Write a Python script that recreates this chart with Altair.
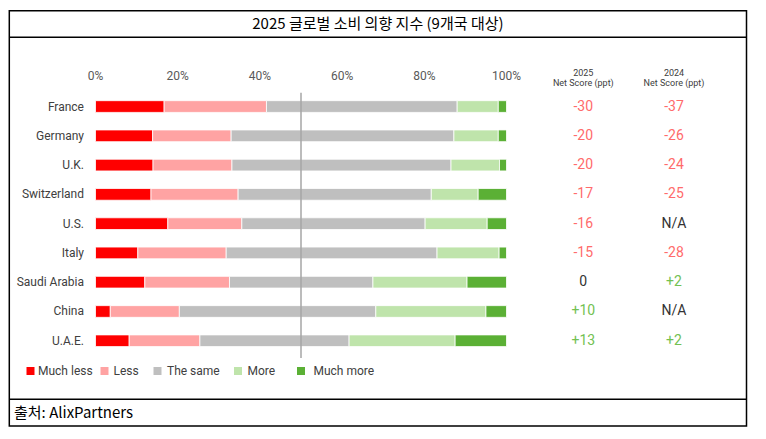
import altair as alt
import pandas as pd

# ---- data ----
countries = ["France", "Germany", "U.K.", "Switzerland", "U.S.", "Italy",
             "Saudi Arabia", "China", "U.A.E."]
categories = ["Much less", "Less", "The same", "More", "Much more"]
much_less = [16.7, 13.9, 14.0, 13.5, 17.6, 10.3, 12.0, 3.6, 8.2]
less = [24.9, 19.1, 19.2, 21.2, 18.0, 21.5, 20.6, 16.8, 17.2]
same = [46.4, 54.2, 53.3, 47.0, 44.6, 51.3, 34.9, 47.8, 36.3]
more = [10.0, 10.8, 11.8, 11.4, 15.1, 15.1, 22.9, 26.8, 25.8]
much_more = [2.0, 2.0, 1.7, 6.9, 4.7, 1.8, 9.6, 5.0, 12.5]
net_2025 = ["-30", "-20", "-20", "-17", "-16", "-15", "0", "+10", "+13"]
net_2024 = ["-37", "-26", "-24", "-25", "N/A", "-28", "+2", "N/A", "+2"]
ticks = [0, 0.2, 0.4, 0.6, 0.8, 1.0]
title_text = "2025 글로벌 소비 의향 지수 (9개국 대상)"
source_text = "출처: AlixPartners"

# ---- styles / layout ----
colors = ["#ff0000", "#ffa3a3", "#bfbfbf", "#bfe4ab", "#5bb035"]
tone_colors = {"neg": "#ff6b6b", "pos": "#72c152", "neu": "#333333"}
legend_sq_x = [30.5, 104.5, 157.5, 238, 301]
legend_tx_x = [38, 113.5, 167, 247.5, 313.5]
OFF = 8  # page margin

W, H = 750, 423
xscale = alt.Scale(domain=[0, 1], range=[95.5 - OFF, 506.5 - OFF], nice=False, zero=False)
yscale = alt.Scale(domain=countries, range=[83.9, 347.4], paddingInner=0.6, paddingOuter=0.3)

series = [much_less, less, same, more, much_more]
rows = []
for k, (cat, vals) in enumerate(zip(categories, series)):
    for c, v in zip(countries, vals):
        rows.append({"country": c, "category": cat, "k": k, "value": v})
bars_df = pd.DataFrame(rows)

bars = alt.Chart(bars_df).mark_bar(stroke="white", strokeWidth=0.8).encode(
    x=alt.X("value:Q", stack="normalize", scale=xscale, axis=None),
    y=alt.Y("country:N", scale=yscale, axis=None, sort=countries),
    color=alt.Color("category:N", scale=alt.Scale(domain=categories, range=colors), legend=None),
    order=alt.Order("k:Q"),
)

tick_df = pd.DataFrame({"t": ticks})
tick_labels = alt.Chart(tick_df).mark_text(
    font="Roboto", fontSize=12, color="#595959", align="center", baseline="middle"
).encode(
    x=alt.X("t:Q", scale=xscale, axis=None),
    y=alt.value(76 - OFF),
    text=alt.Text("t:Q", format=".0%"),
)

country_df = pd.DataFrame({"country": countries})
country_labels = alt.Chart(country_df).mark_text(
    font="Roboto", fontSize=12, color="#404040", align="right", baseline="middle"
).encode(
    x=alt.value(84 - OFF),
    y=alt.Y("country:N", scale=yscale, axis=None, sort=countries),
    text="country:N",
)

mid_df = pd.DataFrame({"v": [0.5]})
mid_rule = alt.Chart(mid_df).mark_rule(color="#a6a6a6", strokeWidth=1.5).encode(
    x=alt.X("v:Q", scale=xscale, axis=None),
    y=alt.value(92.7 - OFF),
    y2=alt.value(358 - OFF),
)


def tone(s):
    if s.startswith("-"):
        return "neg"
    if s.startswith("+"):
        return "pos"
    return "neu"


net_rows = []
for c, a, b in zip(countries, net_2025, net_2024):
    net_rows.append({"country": c, "col": "2025", "txt": a, "tone": tone(a)})
    net_rows.append({"country": c, "col": "2024", "txt": b, "tone": tone(b)})
net_df = pd.DataFrame(net_rows)
tone_scale = alt.Scale(domain=list(tone_colors.keys()), range=list(tone_colors.values()))

net_layers = []
for col, xc in [("2025", 583.3), ("2024", 674)]:
    net_layers.append(
        alt.Chart(net_df).transform_filter(alt.datum.col == col).mark_text(
            font="Roboto", fontSize=14, align="center", baseline="middle"
        ).encode(
            x=alt.value(xc - OFF),
            y=alt.Y("country:N", scale=yscale, axis=None, sort=countries),
            text="txt:N",
            color=alt.Color("tone:N", scale=tone_scale, legend=None),
        )
    )
    hdr = pd.DataFrame({"line": [col, "Net Score (ppt)"], "i": [0, 1]})
    net_layers.append(
        alt.Chart(hdr).transform_filter(alt.datum.i == 0).mark_text(
            font="Roboto", fontSize=9, color="#404040", align="center", baseline="middle"
        ).encode(x=alt.value(xc - OFF), y=alt.value(72.7 - OFF), text="line:N")
    )
    net_layers.append(
        alt.Chart(hdr).transform_filter(alt.datum.i == 1).mark_text(
            font="Roboto", fontSize=9, color="#404040", align="center", baseline="middle"
        ).encode(x=alt.value(xc - OFF), y=alt.value(82.7 - OFF), text="line:N")
    )

legend_layers = []
for cat, col, sx, tx in zip(categories, colors, legend_sq_x, legend_tx_x):
    ldf = pd.DataFrame({"category": [cat]})
    legend_layers.append(
        alt.Chart(ldf).mark_square(size=64, color=col, opacity=1).encode(
            x=alt.value(sx - OFF), y=alt.value(371 - OFF)
        )
    )
    legend_layers.append(
        alt.Chart(ldf).mark_text(
            font="Roboto", fontSize=12, color="#404040", align="left", baseline="middle"
        ).encode(x=alt.value(tx - OFF), y=alt.value(371 - OFF), text="category:N")
    )

one = pd.DataFrame({"a": [0]})
frame = alt.Chart(one).mark_rect(fillOpacity=0, stroke="black", strokeWidth=1.5).encode(
    x=alt.value(9.3 - OFF), x2=alt.value(746.5 - OFF),
    y=alt.value(10.7 - OFF), y2=alt.value(426 - OFF),
)
sep1 = alt.Chart(one).mark_rule(color="black", strokeWidth=1.5).encode(
    x=alt.value(9.3 - OFF), x2=alt.value(746.5 - OFF), y=alt.value(37.3 - OFF)
)
sep2 = alt.Chart(one).mark_rule(color="black", strokeWidth=1.5).encode(
    x=alt.value(9.3 - OFF), x2=alt.value(746.5 - OFF), y=alt.value(399.3 - OFF)
)
title_df = pd.DataFrame({"t": [title_text]})
title = alt.Chart(title_df).mark_text(
    font="Noto Sans CJK KR", fontSize=15, color="black", align="center", baseline="middle"
).encode(x=alt.value(377.9 - OFF), y=alt.value(23.5 - OFF), text="t:N")
src_df = pd.DataFrame({"t": [source_text]})
source = alt.Chart(src_df).mark_text(
    font="Noto Sans CJK KR", fontSize=15, color="black", align="left", baseline="middle"
).encode(x=alt.value(14 - OFF), y=alt.value(412.5 - OFF), text="t:N")

chart = alt.layer(
    bars, mid_rule, tick_labels, country_labels, *net_layers, *legend_layers,
    frame, sep1, sep2, title, source,
).resolve_scale(color="independent").properties(
    width=W, height=H, autosize=alt.AutoSizeParams(type="none"), padding=0,
    background="white",
).configure_view(stroke=None)

chart.save("out.html", embed_options={"renderer": "svg", "actions": False})
